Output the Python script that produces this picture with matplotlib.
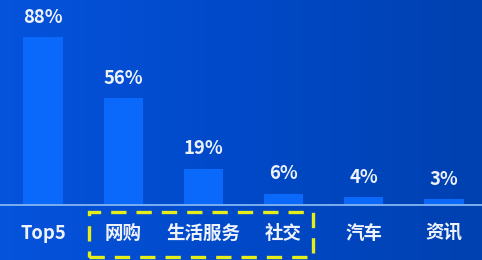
import matplotlib
matplotlib.use("Agg")
import matplotlib.pyplot as plt
import numpy as np
from matplotlib.patches import Rectangle
from matplotlib.colors import LinearSegmentedColormap

categories = ["Top5", "网购", "生活服务", "社交", "汽车", "资讯"]
values = [88, 56, 19, 6, 4, 3]
value_labels = ["88%", "56%", "19%", "6%", "4%", "3%"]

plt.rcParams['font.family'] = ['Noto Sans CJK SC', 'DejaVu Sans']

fig = plt.figure(figsize=(4.82, 2.6), dpi=100)
ax = fig.add_axes([0, 0, 1, 1])

# background gradient
cmap = LinearSegmentedColormap.from_list("bg", ["#0653dc", "#0049c8", "#0041b0"])
grad = np.linspace(0, 1, 256).reshape(1, -1)
ax.imshow(grad, extent=[0, 1, 0, 1], transform=ax.transAxes, cmap=cmap,
          aspect='auto', zorder=0)

x = np.arange(len(categories))
ax.bar(x, values, width=0.49, color="#0a68fa", zorder=2)
ax.axhline(0, color="#7aaef0", lw=1.4, zorder=3)

for xi, v, lab in zip(x, values, value_labels):
    ax.text(xi, v + 10.4, lab, ha='center', va='center', color='#eef2fb',
            fontsize=13.3, fontweight='bold', zorder=4)

for xi, c in zip(x, categories):
    ax.text(xi, -14.7, c, ha='center', va='center', color='#eef2fb',
            fontsize=13.3, fontweight='bold', zorder=4)

box = Rectangle((0.574, -27.2), 3.367 - 0.574, 23.5, fill=False,
                edgecolor='#e6ee1a', lw=2.4, linestyle=(0, (4.6, 3.0)), zorder=5,
                clip_on=False)
ax.add_patch(box)

ax.set_xlim(-0.536, 5.474)
ax.set_ylim(-28.8, 107.3)
ax.axis('off')

fig.savefig("out.png", dpi=100)
